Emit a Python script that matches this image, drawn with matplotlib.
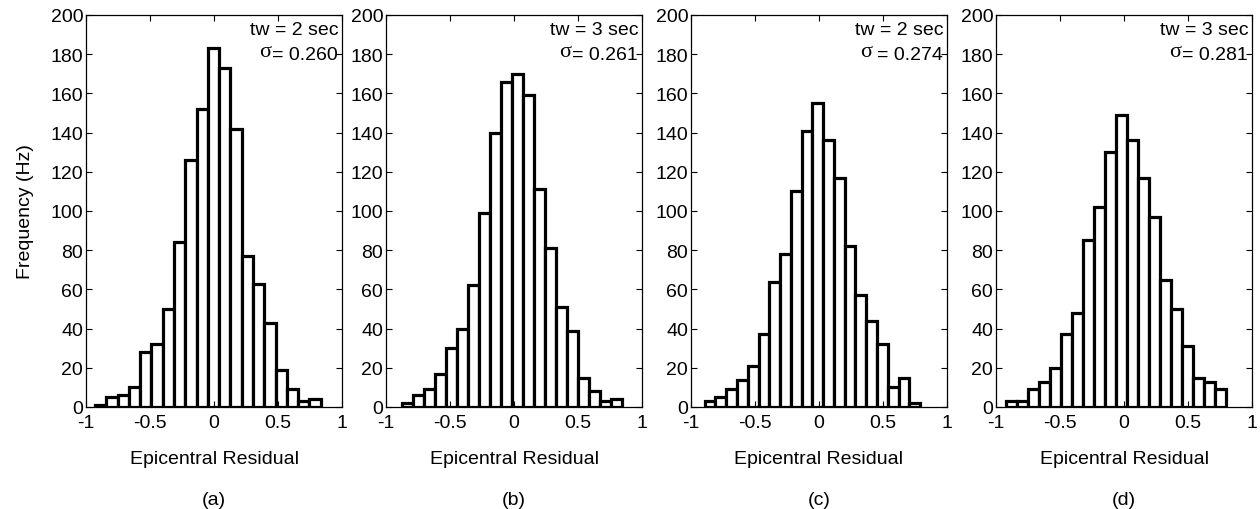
import numpy as np
import matplotlib.pyplot as plt

plt.rcParams['font.family'] = ['Liberation Sans', 'DejaVu Sans']

# histogram counts (20 bins each)
counts_a = [1, 5, 6, 10, 28, 32, 50, 84, 126, 152, 183, 173, 142, 77, 63, 43, 19, 9, 3, 4]
counts_b = [2, 6, 9, 17, 30, 40, 62, 99, 140, 166, 170, 159, 111, 81, 51, 39, 15, 8, 3, 4]
counts_c = [3, 5, 9, 14, 21, 37, 64, 78, 110, 141, 155, 136, 117, 82, 57, 44, 32, 10, 15, 2]
counts_d = [3, 3, 9, 13, 20, 37, 48, 85, 102, 130, 149, 136, 117, 97, 65, 50, 31, 15, 13, 9]

# range of the binned residuals in each panel
bin_lo = [-0.93, -0.877, -0.893, -0.922]
bin_hi = [0.834, 0.847, 0.79, 0.80]

tw_labels = ['tw = 2 sec', 'tw = 3 sec', 'tw = 2 sec', 'tw = 3 sec']
sigma_labels = ['= 0.260', '= 0.261', '= 0.274', '= 0.281']
letters = ['(a)', '(b)', '(c)', '(d)']

all_counts = [counts_a, counts_b, counts_c, counts_d]

fig = plt.figure(figsize=(12.6, 5.1), dpi=100)
W, H = 1260, 510
lefts = [86, 386, 691, 996]
aw = 256
top, bottom = 16, 408
fs = 14

for i in range(4):
    ax = fig.add_axes([lefts[i] / W, 1 - bottom / H, aw / W, (bottom - top) / H])
    edges = np.linspace(bin_lo[i], bin_hi[i], len(all_counts[i]) + 1)
    ax.bar(edges[:-1], all_counts[i], width=np.diff(edges), align='edge',
           facecolor='white', edgecolor='black', linewidth=2.3)
    ax.set_xlim(-1, 1)
    ax.set_ylim(0, 200)
    ax.set_xticks([-1, -0.5, 0, 0.5, 1])
    ax.set_xticklabels(['-1', '-0.5', '0', '0.5', '1'])
    ax.set_yticks(range(0, 201, 20))
    ax.tick_params(direction='in', top=True, right=True, labelsize=fs,
                   length=4, width=0.8, colors='black')
    ax.tick_params(axis='x', pad=5)
    ax.tick_params(axis='y', pad=2)
    for s in ax.spines.values():
        s.set_linewidth(0.9)
    ax.set_xlabel('Epicentral Residual', fontsize=fs, labelpad=14)
    ax.text(0.5, -0.215, letters[i], transform=ax.transAxes, ha='center',
            va='top', fontsize=fs)
    ax.text(0.985, 0.985, tw_labels[i], transform=ax.transAxes, ha='right',
            va='top', fontsize=fs)
    t = ax.text(0.985, 0.92, sigma_labels[i], transform=ax.transAxes,
                ha='right', va='top', fontsize=fs)
    gap = 4 if i == 2 else 1
    ax.annotate('σ', xy=(0, 0.5), xycoords=t, xytext=(-gap, 2.5),
                textcoords='offset points', ha='right', va='center',
                fontsize=16, family='Liberation Serif')
    if i == 0:
        ax.set_ylabel('Frequency (Hz)', fontsize=fs, labelpad=12)

fig.savefig('out.png', dpi=100)
